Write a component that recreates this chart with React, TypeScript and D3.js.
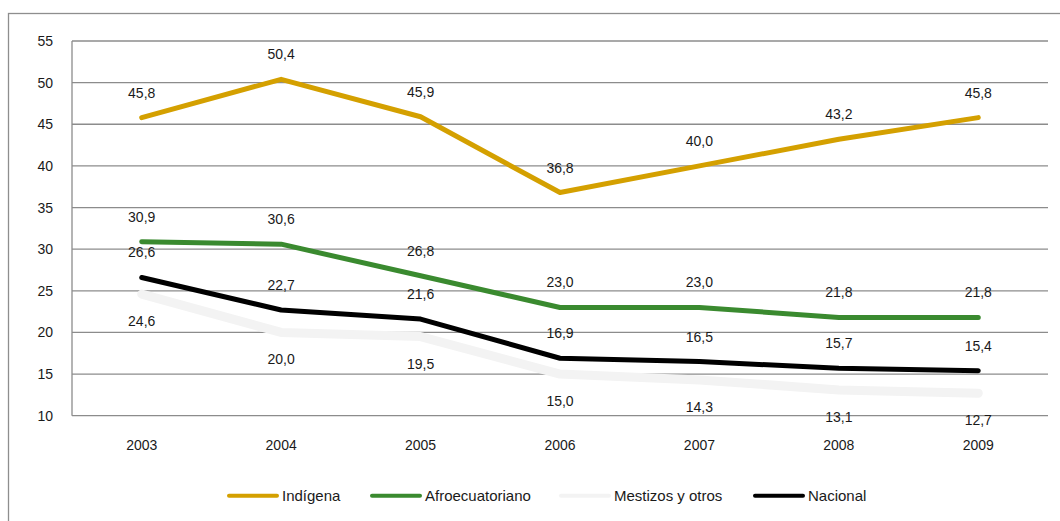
import React from "react";
import * as d3 from "d3";

const years = ["2003", "2004", "2005", "2006", "2007", "2008", "2009"];
const indigena = [45.8, 50.4, 45.9, 36.8, 40.0, 43.2, 45.8];
const afroecuatoriano = [30.9, 30.6, 26.8, 23.0, 23.0, 21.8, 21.8];
const mestizos = [24.6, 20.0, 19.5, 15.0, 14.3, 13.1, 12.7];
const nacional = [26.6, 22.7, 21.6, 16.9, 16.5, 15.7, 15.4];
const yTicks = [10, 15, 20, 25, 30, 35, 40, 45, 50, 55];

const W = 1060;
const H = 521;
const plot = { left: 72, right: 1048, top: 41, bottom: 415.7 };
const FONT = "'Liberation Sans', Arial, sans-serif";

type Series = {
  name: string;
  values: number[];
  color: string;
  width: number;
  labelPos: "above" | "below";
  legendX: number;
};

const series: Series[] = [
  { name: "Indígena", values: indigena, color: "#d4a000", width: 5, labelPos: "above", legendX: 227 },
  { name: "Afroecuatoriano", values: afroecuatoriano, color: "#3a8a2f", width: 5, labelPos: "above", legendX: 370 },
  { name: "Mestizos y otros", values: mestizos, color: "#f3f3f3", width: 9, labelPos: "below", legendX: 559 },
  { name: "Nacional", values: nacional, color: "#000000", width: 5, labelPos: "above", legendX: 753 },
];

const fmt = (v: number) => v.toFixed(1).replace(".", ",");

export default function App() {
  const x = d3.scaleBand<string>().domain(years).range([plot.left, plot.right]);
  const cx = (yr: string) => (x(yr) ?? 0) + x.bandwidth() / 2;
  const y = d3.scaleLinear().domain([10, 55]).range([plot.bottom, plot.top]);

  const line = d3
    .line<number>()
    .x((_, i) => cx(years[i]))
    .y((d) => y(d));

  return (
    <svg
      width={W}
      height={H}
      style={{ position: "absolute", left: 0, top: 0, background: "#fff" }}
    >
      {/* outer frame */}
      <rect x={8.5} y={13.5} width={W + 10} height={H + 10} fill="none" stroke="#8e8e8e" strokeWidth={1.3} />

      {/* gridlines */}
      {yTicks.map((t) => (
        <line
          key={t}
          x1={plot.left}
          x2={plot.right}
          y1={y(t)}
          y2={y(t)}
          stroke="#8c8c8c"
          strokeWidth={1.3}
        />
      ))}
      {/* y axis */}
      <line x1={plot.left} x2={plot.left} y1={plot.top} y2={plot.bottom} stroke="#8c8c8c" strokeWidth={1.3} />

      {/* y tick labels */}
      {yTicks.map((t) => (
        <text
          key={t}
          x={53}
          y={y(t) + 5}
          textAnchor="end"
          fontFamily={FONT}
          fontSize={14}
          fill="#1a1a1a"
        >
          {t}
        </text>
      ))}

      {/* x tick labels */}
      {years.map((yr) => (
        <text key={yr} x={cx(yr)} y={450} textAnchor="middle" fontFamily={FONT} fontSize={14} fill="#1a1a1a">
          {yr}
        </text>
      ))}

      {/* series lines */}
      {series.map((s) => (
        <path
          key={s.name}
          d={line(s.values) ?? ""}
          fill="none"
          stroke={s.color}
          strokeWidth={s.width}
          strokeLinecap="round"
          strokeLinejoin="round"
        />
      ))}

      {/* data labels */}
      {series.map((s) =>
        s.values.map((v, i) => (
          <text
            key={s.name + i}
            x={cx(years[i])}
            y={s.labelPos === "above" ? y(v) - 20 : y(v) + 32}
            textAnchor="middle"
            fontFamily={FONT}
            fontSize={14}
            fill="#1a1a1a"
          >
            {fmt(v)}
          </text>
        ))
      )}

      {/* legend */}
      {series.map((s) => (
        <g key={s.name} transform={`translate(${s.legendX},495.7)`}>
          <line x1={2} x2={50} y1={0} y2={0} stroke={s.color} strokeWidth={4} strokeLinecap="round" />
          <text x={55} y={5.3} fontFamily={FONT} fontSize={15} fill="#1a1a1a">
            {s.name}
          </text>
        </g>
      ))}
    </svg>
  );
}
